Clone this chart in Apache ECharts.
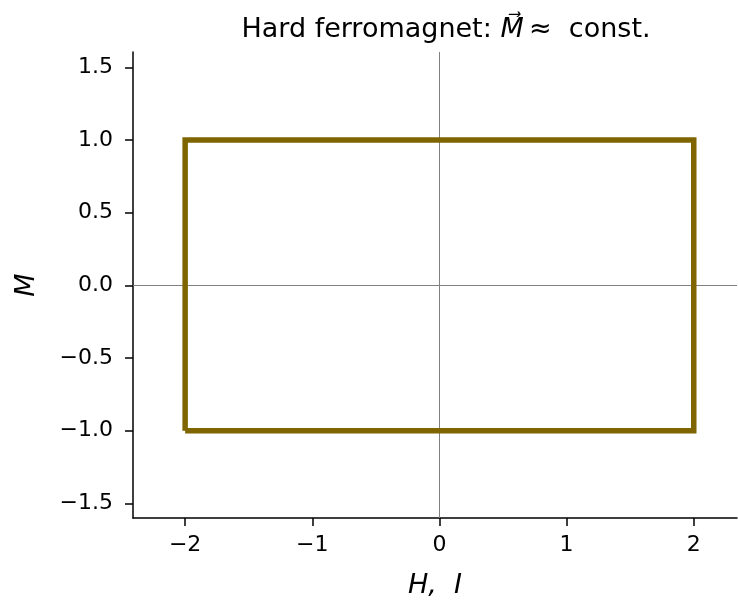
<!DOCTYPE html>
<html>
<head>
<meta charset="utf-8">
<script src="https://cdn.jsdelivr.net/npm/echarts@6/dist/echarts.min.js"></script>
<style>
  html, body { margin: 0; padding: 0; background: #fff; }
  #chart { width: 738px; height: 604px; }
</style>
</head>
<body>
<div id="chart"></div>
<script>
// hysteresis loop corners (H, M)
const loopH = [-2, -2, 2, 2, -2]
const loopM = [-1, 1, 1, -1, -1]
const xTicks = [-2, -1, 0, 1, 2]
const yTicks = [-1.5, -1.0, -0.5, 0.0, 0.5, 1.0, 1.5]

const font = 'DejaVu Sans'
const chart = echarts.init(document.getElementById('chart'))

const fmtY = v => {
  const s = Math.abs(v).toFixed(1)
  return v < 0 ? '\u2212' + s : s
}
const fmtX = v => (v < 0 ? '\u2212' + Math.abs(v) : String(v))

chart.setOption({
  animation: false,
  title: {
    text: 'Hard ferromagnet: {it|M\u20D7}\u2009\u2248  const.',
    left: 441,
    textAlign: 'center',
    top: 11,
    textStyle: {
      fontFamily: font,
      fontSize: 27,
      fontWeight: 'normal',
      color: '#000',
      rich: {
        it: { fontFamily: font, fontSize: 27, fontWeight: 'normal', fontStyle: 'italic', color: '#000' }
      }
    }
  },
  grid: { left: 133, right: 1, top: 52, bottom: 81, containLabel: false },
  xAxis: {
    type: 'value',
    min: -2.41,
    max: 2.34,
    name: 'H,  I',
    nameLocation: 'middle',
    nameGap: 54,
    nameTextStyle: { fontFamily: font, fontSize: 27, fontStyle: 'italic', color: '#000' },
    axisLine: { show: true, onZero: false, lineStyle: { color: '#000', width: 1.5 } },
    axisTick: { show: true, length: 8, customValues: xTicks, lineStyle: { color: '#000', width: 1.5 } },
    axisLabel: { customValues: xTicks, formatter: fmtX, fontFamily: font, fontSize: 22, color: '#000', margin: 16 },
    splitLine: { show: false }
  },
  yAxis: {
    type: 'value',
    min: -1.6,
    max: 1.605,
    name: 'M',
    nameLocation: 'middle',
    nameGap: 93,
    nameRotate: 90,
    nameTextStyle: { fontFamily: font, fontSize: 27, fontStyle: 'italic', color: '#000' },
    axisLine: { show: true, onZero: false, lineStyle: { color: '#000', width: 1.5 } },
    axisTick: { show: true, length: 8, customValues: yTicks, lineStyle: { color: '#000', width: 1.5 } },
    axisLabel: { customValues: yTicks, formatter: fmtY, fontFamily: font, fontSize: 22, color: '#000', margin: 20 },
    splitLine: { show: false }
  },
  series: [
    {
      type: 'line',
      data: loopH.map((h, i) => [h, loopM[i]]),
      showSymbol: false,
      lineStyle: { color: '#7f6500', width: 5.5, join: 'miter' },
      z: 3,
      markLine: {
        silent: true,
        symbol: 'none',
        label: { show: false },
        lineStyle: { color: '#808080', width: 1, type: 'solid' },
        data: [{ xAxis: 0 }, { yAxis: 0 }],
        z: 1
      }
    }
  ]
})
</script>
</body>
</html>
